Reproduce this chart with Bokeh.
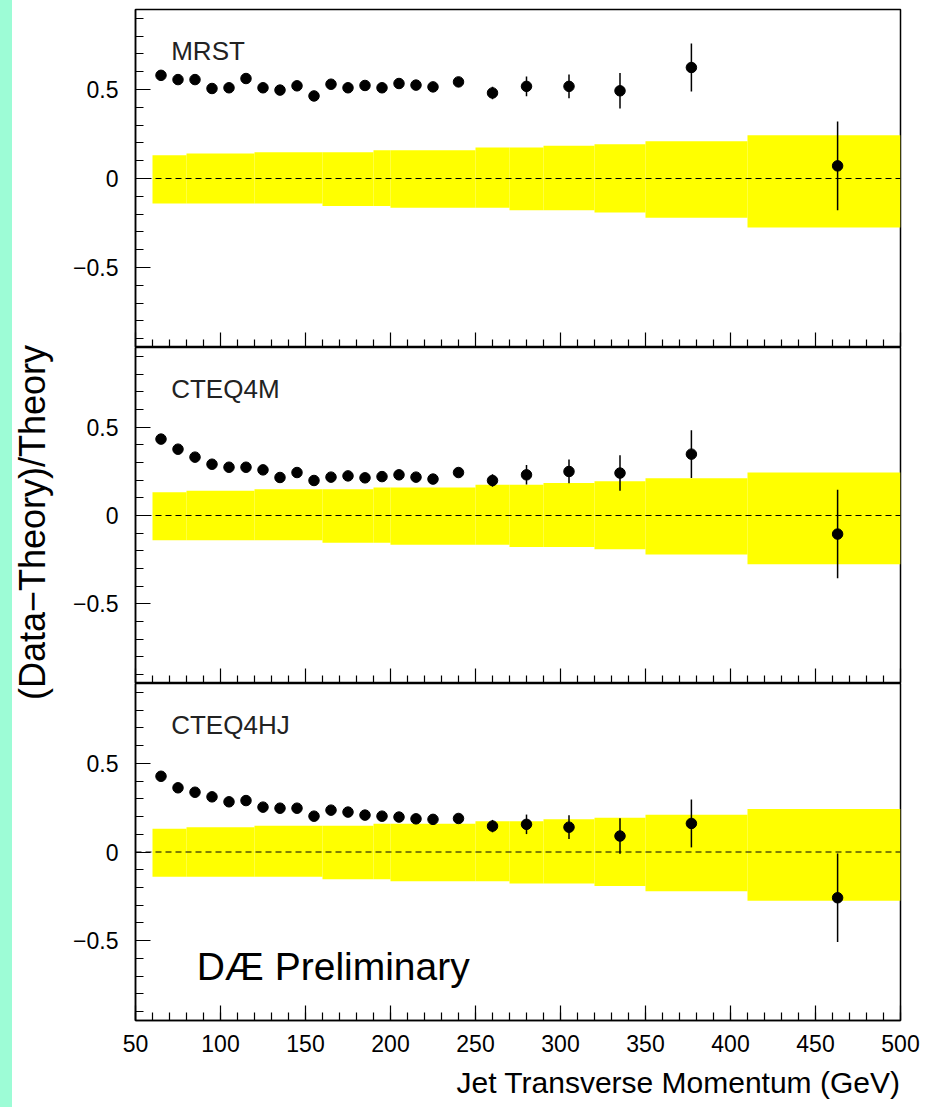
import math
from bokeh.plotting import figure
from bokeh.layouts import column, row
from bokeh.models import (ColumnDataSource, Span, Label, Title, SingleIntervalTicker, FixedTicker,
                          LinearAxis, CustomJSTickFormatter, Range1d)
from bokeh.embed import file_html
from bokeh.resources import INLINE

# ---- data ----
pt = [65, 75, 85, 95, 105, 115, 125, 135, 145, 155, 165, 175, 185, 195, 205, 215, 225,
      240, 260, 280, 305, 335, 377, 463]
mrst = [0.580, 0.556, 0.556, 0.506, 0.510, 0.562, 0.510, 0.497, 0.521, 0.464, 0.530, 0.510,
        0.523, 0.510, 0.534, 0.525, 0.515, 0.543, 0.481, 0.518, 0.518, 0.493, 0.624, 0.071]
cteq4m = [0.432, 0.375, 0.330, 0.290, 0.273, 0.273, 0.258, 0.215, 0.243, 0.198, 0.217, 0.224,
          0.213, 0.220, 0.230, 0.217, 0.206, 0.243, 0.198, 0.230, 0.249, 0.240, 0.347, -0.105]
cteq4hj = [0.427, 0.362, 0.337, 0.311, 0.283, 0.290, 0.253, 0.247, 0.247, 0.202, 0.236, 0.225,
           0.208, 0.202, 0.197, 0.187, 0.184, 0.189, 0.146, 0.156, 0.140, 0.090, 0.161, -0.258]
err = [0.012, 0.012, 0.012, 0.012, 0.012, 0.012, 0.012, 0.012, 0.012, 0.012, 0.012, 0.012,
       0.012, 0.012, 0.012, 0.012, 0.012, 0.020, 0.035, 0.055, 0.067, 0.100, 0.135, 0.250]

band_left = [60, 80, 120, 160, 190, 200, 250, 270, 290, 320, 350, 410]
band_right = [80, 120, 160, 190, 200, 250, 270, 290, 320, 350, 410, 500]
band_up = [0.131, 0.140, 0.148, 0.148, 0.159, 0.159, 0.174, 0.174, 0.184, 0.193, 0.210, 0.243]
band_down = [-0.140, -0.140, -0.140, -0.154, -0.154, -0.165, -0.165, -0.178, -0.178, -0.191,
             -0.221, -0.275]

panel_names = ["MRST", "CTEQ4M", "CTEQ4HJ"]
panel_values = [mrst, cteq4m, cteq4hj]
x_major = [50, 100, 150, 200, 250, 300, 350, 400, 450, 500]
y_title = "(Data\u2212Theory)/Theory"
x_title = "Jet Transverse Momentum (GeV)"

FONT = "Liberation Sans"
LABEL_W = 56
xr = Range1d(50, 500)

yfmt = CustomJSTickFormatter(code="""
if (Math.abs(tick) < 1e-9) return '0';
return (tick < 0 ? '\\u2212' : '') + Math.abs(tick).toFixed(1);
""")


def style_tick_axis(ax, tick_len):
    ax.axis_line_width = 1.5
    ax.major_tick_in = 0
    ax.major_tick_out = 0
    ax.minor_tick_in = tick_len
    ax.minor_tick_out = 0
    ax.minor_tick_line_width = 1.2
    ax.major_label_standoff = 0


def make_panel(name, vals, height, top, bottom, last):
    p = figure(width=938 - LABEL_W, height=height, x_range=xr, y_range=Range1d(-0.95, 0.95),
               output_backend="svg", toolbar_location=None,
               x_axis_location="below" if last else None,
               min_border_left=135 - LABEL_W, min_border_right=38,
               min_border_top=top, min_border_bottom=bottom)
    p.grid.visible = False
    p.outline_line_color = "black"
    p.outline_line_width = 1.5
    p.background_fill_color = "white"
    p.border_fill_color = None

    if last:
        xa = p.xaxis[0]
        xa.ticker = SingleIntervalTicker(interval=50, num_minor_ticks=5)
        xa.major_tick_in = 15
        xa.major_tick_out = 0
        xa.minor_tick_in = 8
        xa.minor_tick_out = 0
        xa.axis_line_width = 1.5
        xa.major_tick_line_width = 1.2
        xa.minor_tick_line_width = 1.2
        xa.major_label_text_font = FONT
        xa.major_label_text_font_size = "23px"
        xa.major_label_text_color = "black"
        xa.major_label_standoff = 14
    else:
        minor_ax = LinearAxis(ticker=FixedTicker(
            ticks=[], minor_ticks=[t for t in range(60, 500, 10) if t % 50 != 0]))
        style_tick_axis(minor_ax, 8)
        major_ax = LinearAxis(ticker=FixedTicker(ticks=[], minor_ticks=x_major))
        style_tick_axis(major_ax, 15)
        p.add_layout(minor_ax, "below")
        p.add_layout(major_ax, "below")

    ya = p.yaxis[0]
    ya.ticker = SingleIntervalTicker(interval=0.5, num_minor_ticks=5)
    ya.formatter = yfmt
    ya.major_tick_in = 15
    ya.major_tick_out = 0
    ya.minor_tick_in = 8
    ya.minor_tick_out = 0
    ya.axis_line_width = 1.5
    ya.major_tick_line_width = 1.2
    ya.minor_tick_line_width = 1.2
    ya.major_label_text_font = FONT
    ya.major_label_text_font_size = "23px"
    ya.major_label_text_color = "black"
    ya.major_label_standoff = 17

    band = ColumnDataSource(dict(left=band_left, right=band_right, top=band_up, bottom=band_down))
    p.quad(left="left", right="right", top="top", bottom="bottom", source=band,
           fill_color="#ffff00", line_color=None)

    p.add_layout(Span(location=0, dimension="width", line_color="black",
                      line_width=1.2, line_dash="6 4"))

    src = ColumnDataSource(dict(x=pt, y=vals,
                                lo=[v - e for v, e in zip(vals, err)],
                                hi=[v + e for v, e in zip(vals, err)]))
    p.segment(x0="x", y0="lo", x1="x", y1="hi", source=src, line_color="black", line_width=1.5)
    p.scatter(x="x", y="y", source=src, size=10.5, marker="circle",
              fill_color="black", line_color="black")

    p.add_layout(Label(x=71, y=0.715, text=name, text_font=FONT, text_font_size="26px",
                       text_color="#222222", text_baseline="alphabetic"))
    return p


p1 = make_panel(panel_names[0], panel_values[0], 347, 9, 0, False)
p2 = make_panel(panel_names[1], panel_values[1], 336, 0, 0, False)
p3 = make_panel(panel_names[2], panel_values[2], 424, 0, 87, True)

p3.add_layout(Label(x=86, y=-0.645, text="D\u00c6 Preliminary", text_font=FONT,
                    text_font_size="39px", text_color="black", text_baseline="alphabetic"))
p3.add_layout(Title(text=x_title, align="right",
                    text_font=FONT, text_font_size="30px", text_font_style="normal",
                    text_color="black", standoff=18), "below")

# narrow figure that carries the shared y-axis title
lf = figure(width=LABEL_W, height=1107, x_range=Range1d(0, LABEL_W), y_range=Range1d(0, 1107),
            output_backend="svg", toolbar_location=None,
            x_axis_location=None, y_axis_location=None,
            min_border=0, min_border_left=0, min_border_right=0,
            min_border_top=0, min_border_bottom=0)
lf.grid.visible = False
lf.outline_line_color = None
lf.background_fill_color = None
lf.border_fill_color = None
lf.add_layout(Label(x=32, y=1107 - 522, text=y_title, angle=math.pi / 2,
                    text_align="center", text_baseline="middle",
                    text_font=FONT, text_font_size="36px", text_color="black"))

layout = row(lf, column(p1, p2, p3, spacing=0), spacing=0,
             styles={"background": "linear-gradient(to right, #9dfcd6 0px, #9dfcd6 12px, #ffffff 12px, #ffffff 100%)"})

open("out.html", "w").write(file_html(layout, INLINE))
